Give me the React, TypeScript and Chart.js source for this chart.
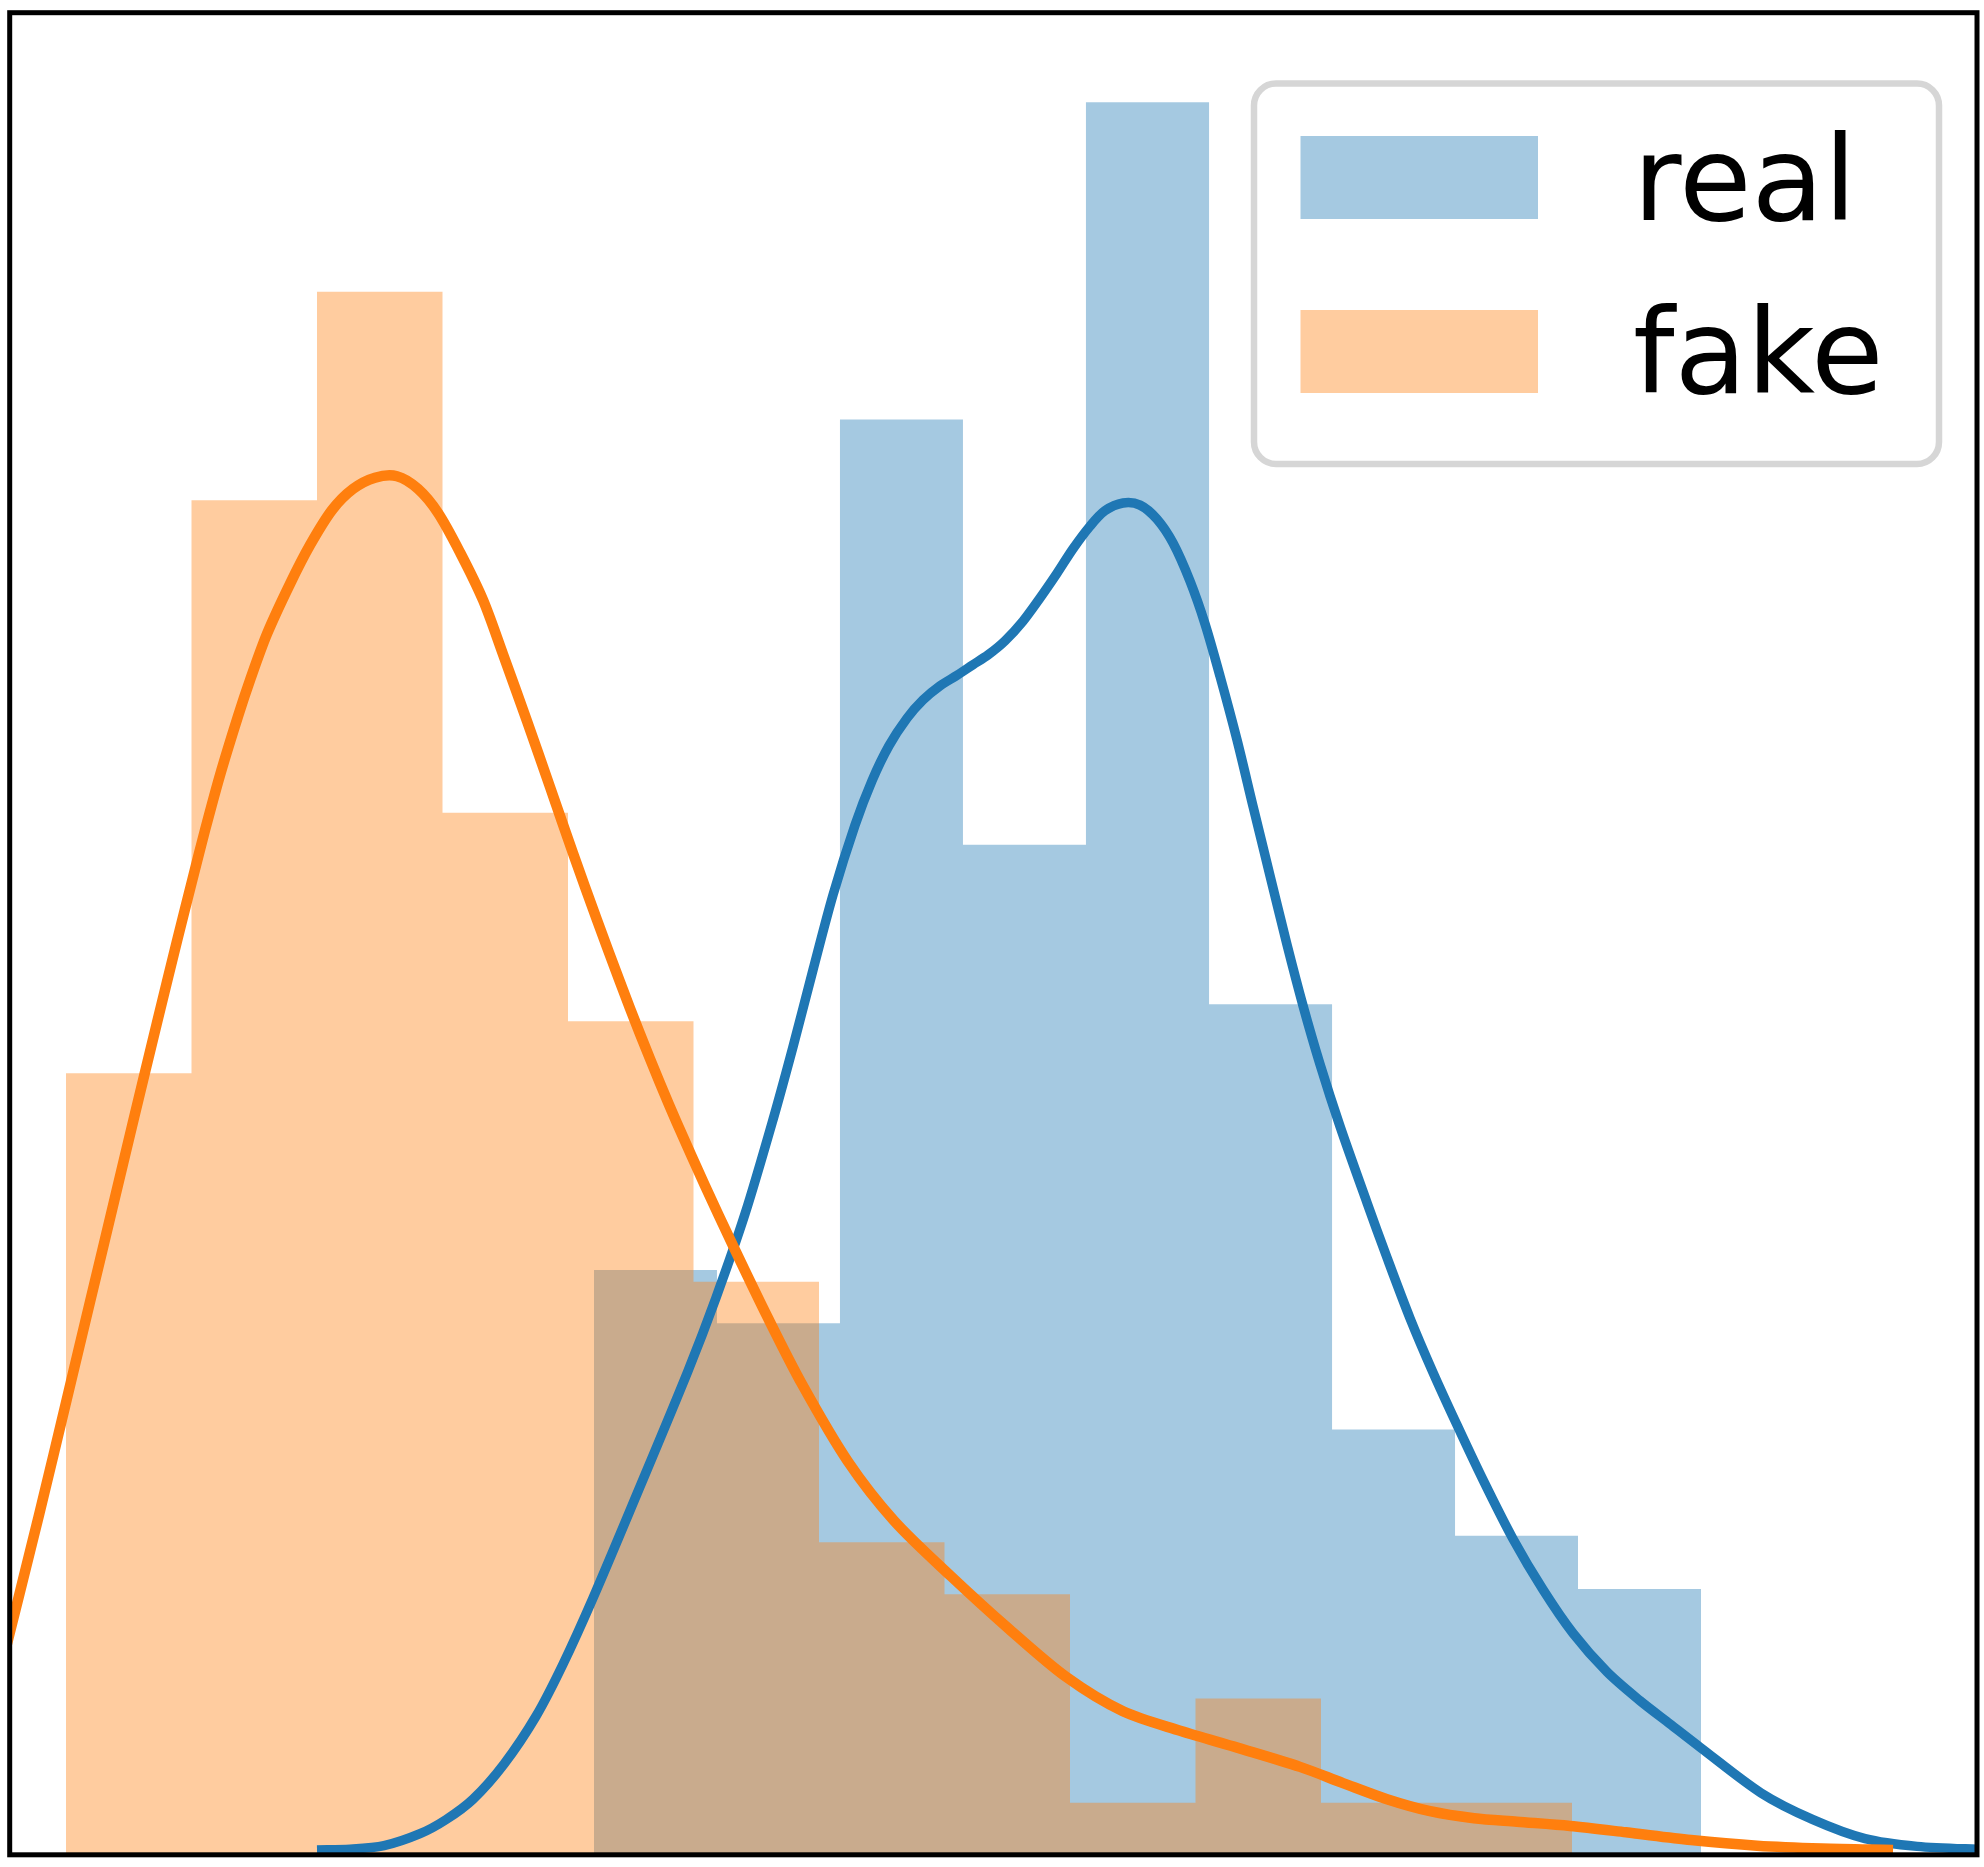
import React, { useEffect, useRef } from 'react';
import { Chart, registerables } from 'chart.js';

Chart.register(...registerables);

const CANVAS_W = 1984;
const CANVAS_H = 1867;

// ---- data (x in arbitrary score units, y as density) ----
const X_MIN = -0.4486;
const X_MAX = 15.227;
const Y_MAX = 0.26191;

const SERIES_LABELS = ['real', 'fake'];

const FAKE_EDGES = [0, 1, 2, 3, 4, 5, 6, 7, 8, 9, 10, 11, 12];
const FAKE_COUNTS = [15, 26, 30, 20, 16, 11, 6, 5, 1, 3, 1, 1];

const REAL_EDGES = [4.207, 5.187, 6.167, 7.147, 8.127, 9.108, 10.088, 11.068, 12.048, 13.028];
const REAL_COUNTS = [11, 10, 27, 19, 33, 16, 8, 6, 5];

const FAKE_KDE_X = [-0.526, -0.215, 0.016, 0.191, 0.367, 0.542, 0.725, 0.884, 1.012, 1.108, 1.227, 1.371, 1.466, 1.602, 1.785, 1.944, 2.12, 2.287, 2.462, 2.637, 2.805, 2.964, 3.139, 3.323, 3.482, 3.673, 3.857, 4.04, 4.231, 4.414, 4.574, 4.733, 4.869, 5.092, 5.315, 5.594, 5.865, 6.231, 6.598, 7.052, 7.514, 7.968, 8.422, 8.884, 9.339, 9.833, 10.175, 10.526, 10.869, 11.219, 11.562, 11.984, 12.43, 12.948, 13.474, 13.992, 14.558];
const FAKE_KDE_Y = [0.026, 0.0483, 0.0655, 0.0786, 0.0917, 0.1048, 0.1183, 0.1299, 0.139, 0.1457, 0.1535, 0.1619, 0.167, 0.1736, 0.1807, 0.1862, 0.1912, 0.1942, 0.1958, 0.196, 0.1942, 0.1908, 0.1852, 0.1784, 0.1707, 0.1612, 0.1518, 0.1424, 0.1329, 0.1241, 0.1167, 0.1097, 0.104, 0.0951, 0.0866, 0.0763, 0.0669, 0.0559, 0.0475, 0.0396, 0.0321, 0.0253, 0.0204, 0.0176, 0.0152, 0.0125, 0.0102, 0.0079, 0.0062, 0.0052, 0.0047, 0.0041, 0.0032, 0.0021, 0.0013, 0.0009, 0.0007];

const REAL_KDE_X = [2.0, 2.263, 2.534, 2.821, 3.028, 3.243, 3.49, 3.745, 3.96, 4.199, 4.542, 4.956, 5.179, 5.41, 5.633, 5.793, 5.952, 6.112, 6.287, 6.422, 6.558, 6.701, 6.829, 6.964, 7.1, 7.227, 7.347, 7.482, 7.625, 7.761, 7.896, 8.024, 8.159, 8.279, 8.422, 8.558, 8.693, 8.821, 8.956, 9.076, 9.195, 9.331, 9.458, 9.594, 9.729, 9.857, 9.992, 10.151, 10.367, 10.526, 10.709, 10.892, 11.084, 11.291, 11.53, 11.769, 12.008, 12.279, 12.542, 12.781, 13.02, 13.506, 13.92, 14.335, 14.749, 15.227, 15.371];
const REAL_KDE_Y = [0.0007, 0.0008, 0.0013, 0.003, 0.005, 0.0079, 0.0129, 0.0197, 0.0271, 0.0365, 0.051, 0.0688, 0.0792, 0.0911, 0.1045, 0.1149, 0.1258, 0.1365, 0.1464, 0.1527, 0.1577, 0.1616, 0.1642, 0.1662, 0.1677, 0.1692, 0.1706, 0.1726, 0.1754, 0.1787, 0.1822, 0.1857, 0.1889, 0.1911, 0.1922, 0.1919, 0.1899, 0.1865, 0.1811, 0.175, 0.1676, 0.1585, 0.1491, 0.1392, 0.1294, 0.1207, 0.1124, 0.1036, 0.0927, 0.0849, 0.0763, 0.0686, 0.0611, 0.0533, 0.0449, 0.0377, 0.0315, 0.026, 0.0219, 0.0186, 0.0153, 0.0088, 0.005, 0.0023, 0.0012, 0.0008, 0.0008];

// ---- styles ----
const REAL_LINE = '#1f77b4';
const FAKE_LINE = '#ff7f0e';
const REAL_FILL = 'rgba(31,119,180,0.4)';
const FAKE_FILL = 'rgba(255,127,14,0.4)';

function histPoints(edges: number[], counts: number[]) {
  const total = counts.reduce((a, b) => a + b, 0);
  return edges.map((e, i) => ({
    x: e,
    y: i < counts.length ? counts[i] / (total * (edges[i + 1] - e)) : 0,
  }));
}

function kdePoints(xs: number[], ys: number[]) {
  return xs.map((x, i) => ({ x, y: ys[i] }));
}

const framePlugin = {
  id: 'axesFrame',
  afterDatasetsDraw(chart: any) {
    const { ctx, chartArea } = chart;
    ctx.save();
    ctx.lineWidth = 5;
    ctx.strokeStyle = '#000000';
    ctx.lineJoin = 'miter';
    ctx.strokeRect(chartArea.left, chartArea.top, chartArea.right - chartArea.left, chartArea.bottom - chartArea.top);
    ctx.restore();
  },
};

const legendPlugin = {
  id: 'boxLegend',
  afterDraw(chart: any) {
    const ctx = chart.ctx;
    const x = 1254, y = 83.5, w = 685, h = 380.5, r = 22;
    ctx.save();
    ctx.beginPath();
    ctx.moveTo(x + r, y);
    ctx.arcTo(x + w, y, x + w, y + h, r);
    ctx.arcTo(x + w, y + h, x, y + h, r);
    ctx.arcTo(x, y + h, x, y, r);
    ctx.arcTo(x, y, x + w, y, r);
    ctx.closePath();
    ctx.fillStyle = '#ffffff';
    ctx.fill();
    ctx.lineWidth = 6.5;
    ctx.strokeStyle = '#d6d6d6';
    ctx.stroke();

    const fills = [REAL_FILL, FAKE_FILL];
    const patchTops = [136, 310];
    const baselines = [220, 393];
    ctx.font = '118px "DejaVu Sans"';
    ctx.textBaseline = 'alphabetic';
    ctx.textAlign = 'left';
    SERIES_LABELS.forEach((label, i) => {
      ctx.fillStyle = fills[i];
      ctx.fillRect(1300.5, patchTops[i], 237.5, 83);
      ctx.fillStyle = '#000000';
      ctx.fillText(label, 1633, baselines[i]);
    });
    ctx.restore();
  },
};

export default function App() {
  const canvasRef = useRef<HTMLCanvasElement | null>(null);

  useEffect(() => {
    document.body.style.margin = '0';
    document.documentElement.style.overflow = 'hidden';
    const canvas = canvasRef.current;
    if (!canvas) return;
    const chart = new Chart(canvas, {
      type: 'line',
      data: {
        datasets: [
          {
            label: 'real hist',
            data: histPoints(REAL_EDGES, REAL_COUNTS),
            stepped: 'before',
            fill: 'origin',
            backgroundColor: REAL_FILL,
            borderColor: 'rgba(0,0,0,0)',
            borderWidth: 0,
            pointRadius: 0,
            order: 4,
            clip: 0,
          },
          {
            label: 'fake hist',
            data: histPoints(FAKE_EDGES, FAKE_COUNTS),
            stepped: 'before',
            fill: 'origin',
            backgroundColor: FAKE_FILL,
            borderColor: 'rgba(0,0,0,0)',
            borderWidth: 0,
            pointRadius: 0,
            order: 3,
            clip: 0,
          },
          {
            label: SERIES_LABELS[0],
            data: kdePoints(REAL_KDE_X, REAL_KDE_Y),
            borderColor: REAL_LINE,
            borderWidth: 9.5,
            fill: false,
            pointRadius: 0,
            tension: 0.3,
            borderJoinStyle: 'round',
            order: 2,
            clip: 0,
          },
          {
            label: SERIES_LABELS[1],
            data: kdePoints(FAKE_KDE_X, FAKE_KDE_Y),
            borderColor: FAKE_LINE,
            borderWidth: 10.5,
            fill: false,
            pointRadius: 0,
            tension: 0.3,
            borderJoinStyle: 'round',
            order: 1,
            clip: 0,
          },
        ] as any,
      },
      options: {
        responsive: false,
        animation: false,
        devicePixelRatio: 1,
        events: [],
        layout: { padding: { left: 9.7, right: 7, top: 12.7, bottom: 12.2 } },
        plugins: {
          legend: { display: false },
          tooltip: { enabled: false },
          title: { display: false },
        },
        scales: {
          x: { type: 'linear', min: X_MIN, max: X_MAX, display: false },
          y: { type: 'linear', min: 0, max: Y_MAX, display: false },
        },
      },
      plugins: [framePlugin, legendPlugin],
    } as any);
    return () => chart.destroy();
  }, []);

  return (
    <canvas
      ref={canvasRef}
      width={CANVAS_W}
      height={CANVAS_H}
      style={{ display: 'block', position: 'absolute', left: 0, top: 0, width: CANVAS_W, height: CANVAS_H, background: '#ffffff' }}
    />
  );
}
